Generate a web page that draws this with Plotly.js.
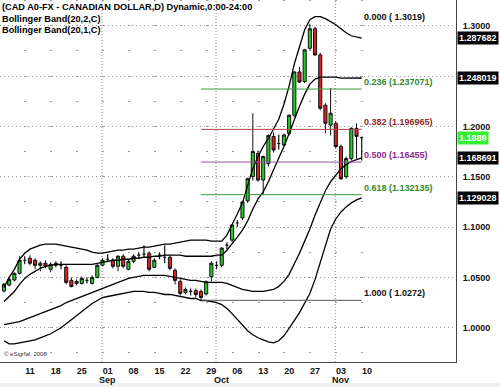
<!DOCTYPE html>
<html><head><meta charset="utf-8">
<script src="https://cdn.plot.ly/plotly-3.0.1.min.js"></script>
<style>html,body{margin:0;padding:0;background:#fff}#chart{width:500px;height:387px}</style>
</head><body><div id="chart"></div>
<script>
const dates = [
 '2008-08-04','2008-08-05','2008-08-06','2008-08-07','2008-08-08',
 '2008-08-11','2008-08-12','2008-08-13','2008-08-14','2008-08-15',
 '2008-08-18','2008-08-19','2008-08-20','2008-08-21','2008-08-22',
 '2008-08-25','2008-08-26','2008-08-27','2008-08-28','2008-08-29',
 '2008-09-01','2008-09-02','2008-09-03','2008-09-04','2008-09-05',
 '2008-09-08','2008-09-09','2008-09-10','2008-09-11','2008-09-12',
 '2008-09-15','2008-09-16','2008-09-17','2008-09-18','2008-09-19',
 '2008-09-22','2008-09-23','2008-09-24','2008-09-25','2008-09-26',
 '2008-09-29','2008-09-30','2008-10-01','2008-10-02','2008-10-03',
 '2008-10-06','2008-10-07','2008-10-08','2008-10-09','2008-10-10',
 '2008-10-13','2008-10-14','2008-10-15','2008-10-16','2008-10-17',
 '2008-10-20','2008-10-21','2008-10-22','2008-10-23','2008-10-24',
 '2008-10-27','2008-10-28','2008-10-29','2008-10-30','2008-10-31',
 '2008-11-03','2008-11-04','2008-11-05','2008-11-06','2008-11-07'];
const openP = [
 1.0365,1.0424,1.0474,1.0540,1.0670, 1.0690,1.0670,1.0620,1.0640,1.0580,
 1.0640,1.0620,1.0600,1.0470,1.0440, 1.0440,1.0470,1.0440,1.0500,1.0620,
 1.0680,1.0670,1.0610,1.0710,1.0580, 1.0660,1.0720,1.0730,1.0740,1.0600,
 1.0720,1.0700,1.0700,1.0570,1.0460, 1.0350,1.0360,1.0370,1.0360,1.0335,
 1.0507,1.0620,1.0620,1.0820,1.0870, 1.1040,1.1090,1.1260,1.1500,1.1730,
 1.1467,1.1630,1.1900,1.1830,1.1815, 1.1930,1.2110,1.2540,1.2445,1.2775,
 1.2970,1.2710,1.2210,1.2013,1.2030, 1.1800,1.1500,1.1680,1.1980,1.1889];
const highP = [
 1.0445,1.0500,1.0550,1.0710,1.0710, 1.0720,1.0690,1.0660,1.0670,1.0650,
 1.0660,1.0660,1.0620,1.0500,1.0480, 1.0510,1.0500,1.0520,1.0630,1.0690,
 1.0730,1.0690,1.0720,1.0730,1.0680, 1.0730,1.0750,1.0820,1.0760,1.0690,
 1.0750,1.0820,1.0720,1.0590,1.0480, 1.0400,1.0390,1.0390,1.0380,1.0470,
 1.0660,1.0660,1.0800,1.0850,1.1030, 1.1070,1.1260,1.1490,1.2130,1.1760,
 1.1710,1.1920,1.1940,1.1920,1.1930, 1.2120,1.2550,1.2590,1.2770,1.3019,
 1.2990,1.2730,1.2230,1.2380,1.2050, 1.1820,1.1700,1.1990,1.2030,1.1900];
const lowP = [
 1.0350,1.0410,1.0460,1.0530,1.0630, 1.0620,1.0580,1.0560,1.0590,1.0550,
 1.0600,1.0580,1.0430,1.0400,1.0420, 1.0430,1.0440,1.0430,1.0490,1.0610,
 1.0650,1.0590,1.0560,1.0590,1.0570, 1.0640,1.0690,1.0700,1.0560,1.0590,
 1.0680,1.0640,1.0570,1.0430,1.0320, 1.0330,1.0320,1.0300,1.0272,1.0320,
 1.0460,1.0580,1.0600,1.0780,1.0850, 1.1000,1.1070,1.1240,1.1460,1.1450,
 1.1320,1.1600,1.1740,1.1770,1.1800, 1.1910,1.2090,1.2430,1.2430,1.2760,
 1.2700,1.2160,1.1930,1.1910,1.1780, 1.1467,1.1480,1.1660,1.1680,1.1660];
const closeP = [
 1.0431,1.0480,1.0540,1.0670,1.0670, 1.0640,1.0620,1.0640,1.0610,1.0630,
 1.0620,1.0620,1.0450,1.0410,1.0460, 1.0490,1.0470,1.0500,1.0620,1.0670,
 1.0680,1.0610,1.0710,1.0610,1.0660, 1.0710,1.0720,1.0730,1.0580,1.0670,
 1.0720,1.0700,1.0590,1.0470,1.0340, 1.0380,1.0360,1.0330,1.0300,1.0457,
 1.0640,1.0620,1.0790,1.0820,1.1020, 1.1040,1.1250,1.1480,1.1750,1.1467,
 1.1700,1.1910,1.1765,1.1830,1.1914, 1.2110,1.2540,1.2440,1.2760,1.2970,
 1.2710,1.2180,1.2030,1.2130,1.1800, 1.1480,1.1680,1.1980,1.1900,1.1889];
// Bollinger Band (20,2,C)
const upper2 = [
 1.040,1.050,1.058,1.068,1.074,1.078,1.080,1.082,1.083,1.083,
 1.083,1.082,1.081,1.080,1.079,1.078,1.077,1.075,1.074,1.074,
 1.075,1.076,1.077,1.077,1.078,1.078,1.079,1.080,1.080,1.081,
 1.082,1.083,1.083,1.084,1.085,1.086,1.087,1.087,1.087,1.087,
 1.086,1.086,1.086,1.092,1.102,1.113,1.124,1.140,1.158,1.170,
 1.180,1.188,1.197,1.207,1.222,1.240,1.262,1.280,1.296,1.306,
 1.309,1.309,1.307,1.304,1.301,1.297,1.293,1.290,1.289,1.287682];
const lower2 = [
 0.987,0.984,0.984,0.985,0.986,0.987,0.988,0.990,0.992,0.994,
 0.997,1.000,1.004,1.008,1.012,1.016,1.020,1.024,1.027,1.030,
 1.031,1.032,1.033,1.034,1.035,1.036,1.036,1.036,1.035,1.035,
 1.034,1.033,1.033,1.032,1.031,1.030,1.029,1.029,1.027,1.027,
 1.026,1.025,1.023,1.019,1.014,1.008,1.002,0.997,0.993,0.990,
 0.988,0.986,0.985,0.987,0.992,0.999,1.007,1.015,1.024,1.034,
 1.048,1.064,1.082,1.098,1.108,1.115,1.120,1.124,1.127,1.129028];
// Bollinger Band (20,1,C)
const upper1 = [
 1.026,1.031,1.036,1.043,1.049,1.053,1.056,1.059,1.061,1.062,
 1.063,1.063,1.063,1.063,1.063,1.063,1.063,1.063,1.064,1.065,
 1.066,1.067,1.067,1.068,1.068,1.069,1.069,1.070,1.070,1.071,
 1.071,1.072,1.072,1.072,1.072,1.071,1.071,1.071,1.071,1.071,
 1.071,1.072,1.072,1.077,1.083,1.090,1.097,1.106,1.118,1.128,
 1.135,1.145,1.157,1.168,1.180,1.193,1.207,1.220,1.232,1.242,
 1.247,1.249,1.249,1.249,1.249,1.248,1.248,1.248,1.248,1.248019];
const lower1 = [
 1.003,1.004,1.005,1.006,1.008,1.010,1.012,1.014,1.016,1.018,
 1.020,1.022,1.025,1.027,1.029,1.031,1.033,1.035,1.037,1.039,
 1.041,1.043,1.045,1.047,1.049,1.050,1.051,1.052,1.052,1.052,
 1.052,1.052,1.051,1.050,1.049,1.048,1.047,1.047,1.046,1.045,
 1.045,1.045,1.045,1.044,1.042,1.040,1.038,1.037,1.036,1.036,
 1.036,1.037,1.038,1.041,1.046,1.053,1.063,1.074,1.086,1.098,
 1.112,1.125,1.136,1.145,1.152,1.158,1.162,1.165,1.167,1.168691];
// Fibonacci retracement
const fibLabels = ['0.000 ( 1.3019)','0.236 (1.237071)','0.382 (1.196965)','0.500 (1.16455)','0.618 (1.132135)','1.000 ( 1.0272)'];
const fibPrices = [1.3019, 1.237071, 1.196965, 1.16455, 1.132135, 1.0272];
const fibStartDate = '2008-09-25';
const tickDates = ['2008-08-11','2008-08-18','2008-08-25','2008-09-01','2008-09-08','2008-09-15','2008-09-22','2008-09-29','2008-10-06','2008-10-13','2008-10-20','2008-10-27','2008-11-03','2008-11-10'];
const tickText = ['11','18','25','01','08','15','22','29','06','13','20','27','03','10'];
const priceTicks = [1.00, 1.05, 1.10, 1.15, 1.20, 1.25, 1.30];
const priceTickText = ['1.0000','1.0500','1.1000','1.1500','1.2000','','1.3000'];
const monthNames = ['Sep','Oct','Nov'];
const monthStarts = ['2008-09-01','2008-10-01','2008-11-03'];
const titleLines = ['(CAD A0-FX - CANADIAN DOLLAR,D) Dynamic,0:00-24:00','Bollinger Band(20,2,C)','Bollinger Band(20,1,C)'];

// trading-day index (weekdays since first date)
function tIdx(s){
  const d0 = Date.UTC(2008,7,4);
  const p = s.split('-').map(Number);
  const d1 = Date.UTC(p[0],p[1]-1,p[2]);
  let n = 0;
  for(let t=d0; t<d1; t+=86400000){ const wd = new Date(t).getUTCDay(); if(wd!==0 && wd!==6) n++; }
  return n;
}
const X = dates.map(tIdx);
const font = 'Arial, Liberation Sans, sans-serif';
const bold = {family: font, size: 9, color: '#111', weight: 700};
const titleFont = {family: font, size: 9.2, color: '#000', weight: 700};

const isDoji = openP.map((o,i)=>o===closeP[i]);
const pick = (arr, want) => arr.filter((_,i)=>isDoji[i]===want);

const traces = [];
const bandStyle = {color:'#000', width:1.3};
[upper2, lower2, upper1, lower1].forEach(b=>{
  traces.push({type:'scatter', mode:'lines', x:X, y:b, line:bandStyle, hoverinfo:'skip', showlegend:false});
});
// fib lines
const fibColors = [null,'#3a9a3a','#b04848','#a050a8','#3a9a3a','#555'];
const fibTextColors = ['#111','#2e8b2e','#8b2a2a','#8b2a8b','#2e8b2e','#111'];
const xs = tIdx(fibStartDate), xe = X[X.length-1];
fibPrices.forEach((p,k)=>{
  if(fibColors[k]) traces.push({type:'scatter', mode:'lines', x:[xs,xe], y:[p,p], line:{color:fibColors[k], width:1}, hoverinfo:'skip', showlegend:false});
});
traces.push({type:'candlestick', x:pick(X,false), open:pick(openP,false), high:pick(highP,false), low:pick(lowP,false), close:pick(closeP,false),
  increasing:{line:{color:'#111', width:1}, fillcolor:'#22cc22'},
  decreasing:{line:{color:'#111', width:1}, fillcolor:'#dd2020'},
  whiskerwidth:0, showlegend:false, hoverinfo:'skip'});
traces.push({type:'candlestick', x:pick(X,true), open:pick(openP,true), high:pick(highP,true), low:pick(lowP,true), close:pick(closeP,true),
  increasing:{line:{color:'#111', width:1.2}, fillcolor:'#111'},
  decreasing:{line:{color:'#111', width:1.2}, fillcolor:'#111'},
  whiskerwidth:0, showlegend:false, hoverinfo:'skip'});

const tickIdx = tickDates.map(tIdx);
const annotations = [];
titleLines.forEach((t,k)=>annotations.push({text:t, xref:'paper', yref:'paper', x:0, y:1 - (0.5+k*11)/362, xanchor:'left', yanchor:'top', showarrow:false, font:titleFont}));
fibLabels.forEach((t,k)=>annotations.push({text:t, x:xe, y:fibPrices[k], xanchor:'left', yanchor:'bottom', showarrow:false, font:{family:font, size:9, color:fibTextColors[k], weight:700}}));
monthNames.forEach((m,k)=>annotations.push({text:m, x:tIdx(monthStarts[k]), xref:'x', yref:'paper', y:-18/362, yanchor:'middle', showarrow:false, font:bold}));
[upper2, upper1, lower1, lower2].forEach(b=>{
  const v = b[b.length-1];
  annotations.push({text:v.toFixed(6), xref:'paper', x:1, xanchor:'left', xshift:1, y:v, yref:'y', showarrow:false, bgcolor:'#000', borderpad:1, font:{family:font, size:9, color:'#fff', weight:700}});
});
const last = closeP[closeP.length-1];
annotations.push({text:last.toFixed(4), xref:'paper', x:1, xanchor:'left', xshift:1, y:last, yref:'y', showarrow:false, bgcolor:'#33ee33', borderpad:1, font:{family:font, size:9, color:'#fff', weight:700}});
annotations.push({text:'© eSignal, 2008', xref:'paper', yref:'paper', x:0.004, y:8/362, xanchor:'left', yanchor:'middle', showarrow:false, font:{family:font, size:6, color:'#333'}});

const shapes = monthStarts.map(d=>({type:'line', xref:'x', yref:'paper', x0:tIdx(d)-1.1, x1:tIdx(d)-1.1, y0:0, y1:1, line:{color:'#888', width:1, dash:'1px,2px'}, layer:'below'}));
shapes.push({type:'rect', xref:'paper', yref:'paper', x0:-0.01, x1:1.2, y0:-25/362, y1:-21/362, fillcolor:'#f0f0f0', line:{width:0}, layer:'below'});

const layout = {
  width:500, height:387, margin:{l:0, r:44, t:0, b:25},
  paper_bgcolor:'#fff', plot_bgcolor:'#fff', showlegend:false, boxgap:0.15,
  xaxis:{type:'linear', range:[-0.772, 87.19], tickmode:'array', tickvals:tickIdx, ticktext:tickText,
    showgrid:false, zeroline:false, showline:true, linecolor:'#444', linewidth:1, ticks:'', tickfont:bold,
    rangeslider:{visible:false}, fixedrange:true,
    minor:{tickmode:'array', tickvals:tickIdx.map(v=>v-0.9), showgrid:true, gridcolor:'#999', gridwidth:2, griddash:'1px,24.17px', ticks:''}},
  yaxis:{side:'right', range:[0.96593, 1.32552], tickmode:'array', tickvals:priceTicks, ticktext:priceTickText, showgrid:true, gridcolor:'#999', gridwidth:1, griddash:'1px,3px',
    zeroline:false, showline:true, linecolor:'#444', linewidth:1, ticks:'', ticklabelstandoff:4, tickfont:bold, fixedrange:true},
  annotations, shapes
};
Plotly.newPlot('chart', traces, layout, {displayModeBar:false, staticPlot:true});
</script></body></html>
